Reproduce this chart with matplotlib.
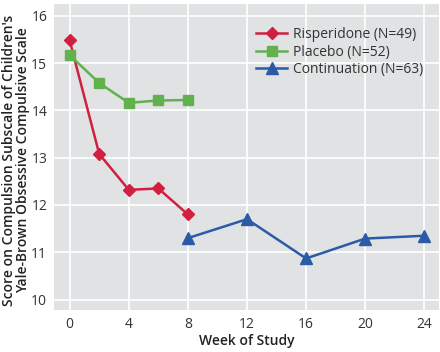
import numpy as np
import matplotlib.pyplot as plt

plt.rcParams['font.family'] = ['Open Sans', 'DejaVu Sans']

ris_weeks = [0, 2, 4, 6, 8]
ris_score = [15.48, 13.08, 12.32, 12.35, 11.80]
pla_weeks = [0, 2, 4, 6, 8]
pla_score = [15.17, 14.58, 14.16, 14.21, 14.22]
con_weeks = [8, 12, 16, 20, 24]
con_score = [11.30, 11.70, 10.87, 11.29, 11.35]

fig = plt.figure(figsize=(4.4, 3.52), dpi=100)
ax = fig.add_axes([0.123, 0.118, 0.875, 0.872])
ax.set_facecolor('#e1e2e4')

ax.plot(ris_weeks, ris_score, '-D', color='#d11f3f', lw=1.8, ms=6, label='Risperidone (N=49)', zorder=3)
ax.plot(pla_weeks, pla_score, '-s', color='#62b04e', lw=1.8, ms=7, label='Placebo (N=52)', zorder=3)
ax.plot(con_weeks, con_score, '-^', color='#2b5aa6', lw=1.8, ms=8, label='Continuation (N=63)', zorder=3)

ax.set_xlim(-1.05, 25)
ax.set_ylim(9.77, 16.26)
ax.set_xticks([0, 4, 8, 12, 16, 20, 24])
ax.set_yticks([10, 11, 12, 13, 14, 15, 16])
ax.grid(True, color='white', lw=1.2)
ax.set_axisbelow(True)
for s in ax.spines.values():
    s.set_visible(False)
ax.tick_params(length=0, labelsize=10, colors='#333333', pad=5)

ax.set_xlabel('Week of Study', fontsize=10, fontweight='semibold', color='#222222')
ax.xaxis.set_label_coords(0.5, -0.078)
ax.set_ylabel("Score on Compulsion Subscale of Children's\nYale-Brown Obsessive Compulsive Scale",
              fontsize=10, fontweight='semibold', color='#222222', linespacing=1.0)
ax.yaxis.set_label_coords(-0.062, 0.49)

ax.legend(loc='upper right', bbox_to_anchor=(0.99, 0.965), frameon=False, fontsize=10,
          handlelength=2.2, labelspacing=0.2, handletextpad=0.4, labelcolor='#333333')

plt.savefig('out.png', dpi=100)
